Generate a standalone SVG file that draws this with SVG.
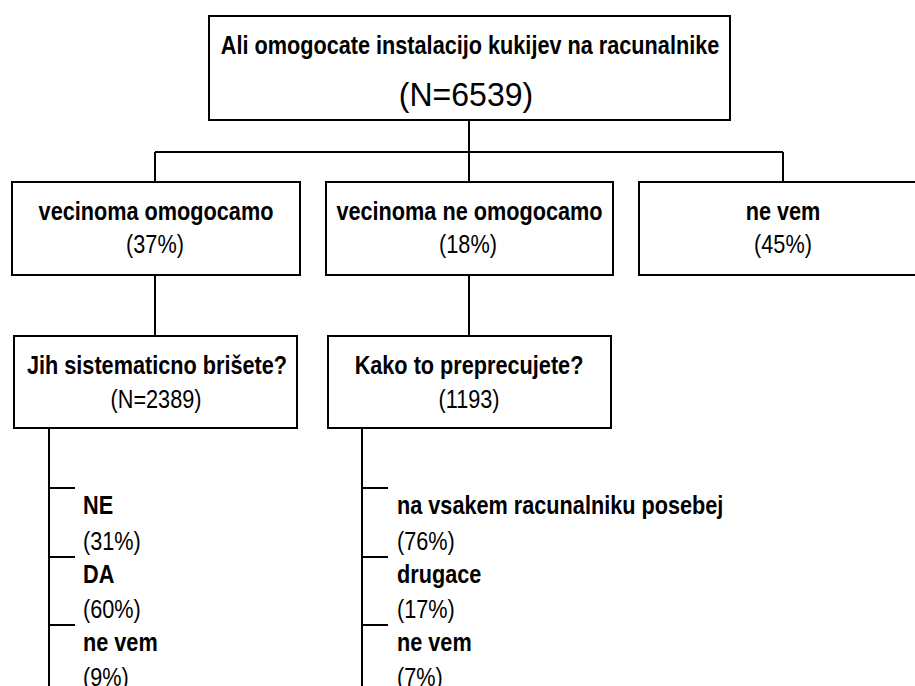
<svg xmlns="http://www.w3.org/2000/svg" width="915" height="686" viewBox="0 0 915 686">
<style>
.box{fill:#fff;stroke:#000;stroke-width:2}
.ln{stroke:#000;stroke-width:2;fill:none}
text{font-family:"Liberation Sans",Arial,sans-serif;fill:#000;font-size:25.5px}
.b{font-weight:bold}
.c{text-anchor:middle}
</style>
<rect width="915" height="686" fill="#fff"/>
<g id="connectors">
<path class="ln" d="M469,120V152M155,152H783M155,152V182M469,152V182M783,152V182M155,275V336M469,275V336"/>
<path class="ln" d="M49,428V686M49,488H75M49,557H75M49,625H75"/>
<path class="ln" d="M362,428V686M362,488H388M362,557H388M362,625H388"/>
</g>
<g id="root">
<rect class="box" x="209" y="16" width="521" height="104"/>
<text class="b c" transform="translate(470,54) scale(0.85,1)">Ali omogocate instalacijo kukijev na racunalnike</text>
<text class="c" style="font-size:33px" transform="translate(466,106) scale(0.97,1)">(N=6539)</text>
</g>
<g id="n-omogocamo">
<rect class="box" x="12" y="182" width="288" height="93"/>
<text class="b c" transform="translate(156,220) scale(0.85,1)">vecinoma omogocamo</text>
<text class="c" transform="translate(155,253) scale(0.85,1)">(37%)</text>
</g>
<g id="n-ne-omogocamo">
<rect class="box" x="326" y="182" width="287" height="93"/>
<text class="b c" transform="translate(469.5,220) scale(0.85,1)">vecinoma ne omogocamo</text>
<text class="c" transform="translate(468,253) scale(0.85,1)">(18%)</text>
</g>
<g id="n-ne-vem">
<rect class="box" x="639" y="182" width="288" height="93"/>
<text class="b c" transform="translate(783,220) scale(0.85,1)">ne vem</text>
<text class="c" transform="translate(783,253) scale(0.85,1)">(45%)</text>
</g>
<g id="n-brisete">
<rect class="box" x="14" y="336" width="283" height="92"/>
<text class="b c" transform="translate(157,374) scale(0.85,1)">Jih sistematicno brišete?</text>
<text class="c" transform="translate(156,408) scale(0.85,1)">(N=2389)</text>
</g>
<g id="n-preprecujete">
<rect class="box" x="328" y="336" width="283" height="92"/>
<text class="b c" transform="translate(469,374) scale(0.85,1)">Kako to preprecujete?</text>
<text class="c" transform="translate(469,408) scale(0.85,1)">(1193)</text>
</g>
<g id="list-brisete">
<text class="b" transform="translate(83,514) scale(0.85,1)">NE</text>
<text transform="translate(83,550) scale(0.85,1)">(31%)</text>
<text class="b" transform="translate(83,583) scale(0.85,1)">DA</text>
<text transform="translate(83,618) scale(0.85,1)">(60%)</text>
<text class="b" transform="translate(83,651) scale(0.85,1)">ne vem</text>
<text transform="translate(83,686) scale(0.85,1)">(9%)</text>
</g>
<g id="list-preprecujete">
<text class="b" transform="translate(397,514) scale(0.85,1)">na vsakem racunalniku posebej</text>
<text transform="translate(397,550) scale(0.85,1)">(76%)</text>
<text class="b" transform="translate(397,583) scale(0.85,1)">drugace</text>
<text transform="translate(397,618) scale(0.85,1)">(17%)</text>
<text class="b" transform="translate(397,651) scale(0.85,1)">ne vem</text>
<text transform="translate(397,686) scale(0.85,1)">(7%)</text>
</g>
</svg>
